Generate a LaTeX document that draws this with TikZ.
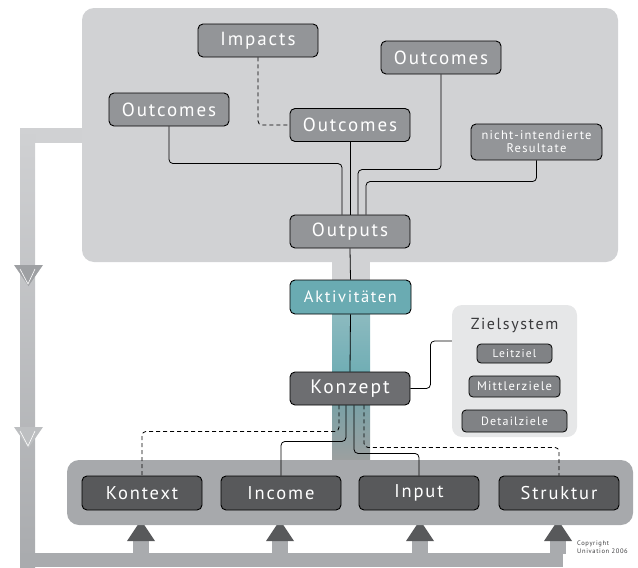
\documentclass[tikz,border=0pt]{standalone}
\usepackage{fontspec}
\setmainfont{PT Sans}[LetterSpace=10]
\usetikzlibrary{calc}
\definecolor{topbg}{HTML}{D1D2D4}
\definecolor{botbg}{HTML}{A7A9AC}
\definecolor{zielbg}{HTML}{E6E7E8}
\definecolor{midnode}{HTML}{939598}
\definecolor{darknode}{HTML}{58595B}
\definecolor{konode}{HTML}{6D6E71}
\definecolor{zinode}{HTML}{808285}
\definecolor{teal}{HTML}{6AABB2}
\definecolor{teallight}{HTML}{93BDC2}
\definecolor{barlight}{HTML}{D0D1D3}
\definecolor{bardark}{HTML}{A9ABAE}
\definecolor{tri1}{HTML}{9EA0A3}
\definecolor{tri2}{HTML}{BDBFC1}
\definecolor{txtdark}{HTML}{3A3A3C}
\tikzset{
  basebox/.style={draw=black, line width=0.9pt, rounded corners=5pt, text=white, inner sep=0pt, align=center},
  topbox/.style={basebox, fill=midnode, minimum width=120pt, minimum height=33pt, font=\fontsize{19}{21}\selectfont},
  botbox/.style={basebox, fill=darknode, minimum width=120pt, minimum height=34pt, font=\fontsize{18.5}{22}\selectfont},
  zbox/.style={basebox, fill=zinode, line width=0.8pt, rounded corners=4pt},
  conn/.style={draw=black, line width=0.8pt, rounded corners=4pt},
  dconn/.style={conn, dash pattern=on 4pt off 3pt},
  uparrow/.style={fill=darknode},
}
\begin{document}
\begin{tikzpicture}[x=1pt,y=-1pt]
\useasboundingbox (0,0) rectangle (638,568);
% left return bar
\fill[barlight] (20,128) rectangle (83,143);
\shade[top color=barlight, bottom color=bardark] (20,128) rectangle (35,567);
\fill[bardark] (20,553) rectangle (563,567);
% down triangles on left bar
\fill[tri1] (14,265) -- (43,265) -- (28.5,286) -- cycle;
\draw[white, line width=0.6pt] (20,269) -- (28,284) -- (35,269);
\fill[tri2] (14,427) -- (43,427) -- (28.5,448) -- cycle;
\draw[white, line width=0.6pt] (20,431) -- (28,446) -- (35,431);
% up arrows
\foreach \c in {141,280,420,558}{
  \fill[bardark] (\c-8,540) rectangle (\c+8,554);
  \fill[uparrow] (\c-14,541) -- (\c+14,541) -- (\c,520) -- cycle;
}
% top background
\fill[topbg, rounded corners=12pt] (82,8) rectangle (618,262);
% central pillar
\fill[topbg] (332,255) rectangle (370,290);
\shade[top color=teallight, bottom color=teal] (332,300) rectangle (370,385);
\shade[top color=teal!80!gray, bottom color=gray!75] (332,385) rectangle (370,465);
% bottom container
\fill[botbg, rounded corners=12pt] (67,460) rectangle (633,525);
% Zielsystem container
\node[fill=zielbg, rounded corners=10pt, minimum width=125pt, minimum height=132pt, inner sep=0pt] (zs) at (514.5,371) {};
\node[text=txtdark, font=\fontsize{16}{18}\selectfont] (zt) at (514.5,325) {Zielsystem};
\node[zbox, minimum width=75pt, minimum height=19pt, font=\fontsize{11.5}{13}\selectfont] (lz) at (514.5,353.5) {Leitziel};
\node[zbox, minimum width=91pt, minimum height=21pt, font=\fontsize{12.5}{14}\selectfont] (mz) at (514.5,386.5) {Mittlerziele};
\node[zbox, minimum width=105pt, minimum height=22pt, font=\fontsize{12}{14}\selectfont] (dz) at (514.5,421) {Detailziele};
% top nodes
\node[topbox] (imp) at (258,40.5) {Impacts};
\node[topbox] (ol) at (169,109.5) {Outcomes};
\node[topbox] (om) at (350,125) {Outcomes};
\node[topbox] (or) at (441,57.5) {Outcomes};
\node[topbox, minimum width=131pt, minimum height=36pt, font=\fontsize{12.5}{14}\selectfont] (nr) at (536.5,142) {nicht-intendierte\\[-1pt]Resultate};
\node[topbox] (out) at (350,231.5) {Outputs};
\node[topbox, fill=teal, minimum width=121pt, minimum height=34pt, font=\fontsize{16.5}{18}\selectfont] (akt) at (350.5,297) {Aktivitäten};
\node[topbox, fill=konode, minimum height=33pt, font=\fontsize{19.5}{22}\selectfont] (kz) at (350,388.5) {Konzept};
% bottom nodes
\node[botbox] (kx) at (142,493) {Kontext};
\node[botbox] (inc) at (281,493) {Income};
\node[botbox] (inp) at (419,493) {Input};
\node[botbox] (str) at (559,493) {Struktur};
% connectors top
\draw[dconn] (imp.south) |- (om.west);
\draw[conn] (ol.south) |- ([xshift=-8pt,yshift=51pt]out.north) -- ([xshift=-8pt]out.north);
\draw[conn] (om.south) -- (out.north);
\draw[conn] (or.south) |- ([xshift=8pt,yshift=45pt]out.north) -- ([xshift=8pt]out.north);
\draw[conn] (nr.south) |- ([xshift=16pt,yshift=33pt]out.north) -- ([xshift=16pt]out.north);
\draw[conn] (out.south) -- (akt.north);
\draw[conn] (akt.south) -- (kz.north);
% Konzept to Zielsystem
\draw[conn] (kz.east) -- ([xshift=20pt]kz.east) |- ([yshift=30pt]zs.west);
% Konzept to bottom nodes
\draw[dconn] ([xshift=-11pt]kz.south) -- ([xshift=-11pt,yshift=-26pt]kz.south) -| (kx.north);
\draw[conn] ([xshift=-4pt]kz.south) -- ([xshift=-4pt,yshift=-36pt]kz.south) -| (inc.north);
\draw[conn] ([xshift=4pt]kz.south) -- ([xshift=4pt,yshift=-48pt]kz.south) -| (inp.north);
\draw[dconn] ([xshift=14pt]kz.south) -- ([xshift=14pt,yshift=-42pt]kz.south) -| (str.north);
% copyright
\node[text=txtdark, font=\fontsize{6.5}{7.5}\selectfont, align=left, anchor=north west, inner sep=0pt] (cp) at (577,541) {Copyright\\Univation 2006};
\end{tikzpicture}
\end{document}
